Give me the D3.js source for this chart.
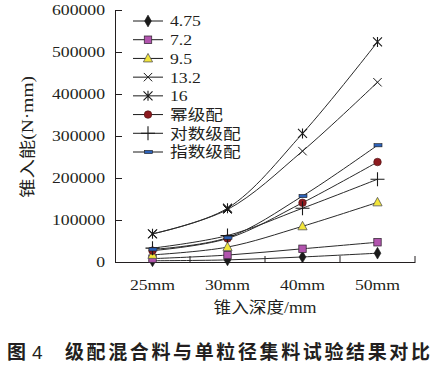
<!DOCTYPE html>
<html><head><meta charset="utf-8">
<script src="https://cdn.jsdelivr.net/npm/d3@7/dist/d3.min.js"></script>
<style>
html,body{margin:0;padding:0;background:#fff;}
svg{display:block;}
text{font-family:"Liberation Serif","Noto Sans CJK SC",serif;fill:#231f20;}
</style></head>
<body>
<svg id="c" width="441" height="371"></svg>
<script>
const categories = ["25mm","30mm","40mm","50mm"];
const seriesNames = ["4.75","7.2","9.5","13.2","16","幂级配","对数级配","指数级配"];
const s475 = [3000, 5000, 12000, 21000];
const s72 = [8000, 16500, 31500, 47000];
const s95 = [17000, 35500, 85000, 142000];
const s132 = [67000, 125000, 264000, 428000];
const s16 = [67000, 128000, 306000, 524000];
const sPow = [27000, 56000, 141000, 238000];
const sLog = [33000, 63000, 128000, 197000];
const sExp = [30000, 58000, 157000, 278000];
const yTicks = [0,100000,200000,300000,400000,500000,600000];
const xTitle = "锥入深度/mm";
const yTitle = "锥入能(N·mm)";
const caption1 = "图 4";
const caption2 = "级配混合料与单粒径集料试验结果对比";

const seriesValues = [s475, s72, s95, s132, s16, sPow, sLog, sExp];
const shapes = ["diamond","square","triangle","x","star","circle","plus","dash"];
const fills = ["#1a1a1a","#b254ae","#f2e53a","none","none","#8c1a1f","none","#2d62b8"];

const SX = 1.18;
const svg = d3.select("#c");
const x = d3.scaleBand().domain(categories).range([115,415]).paddingInner(0).paddingOuter(0);
const y = d3.scaleLinear().domain([0,600000]).range([262,10]);

function stretch(sel){
  sel.each(function(){
    const t = d3.select(this);
    const xx = +t.attr("x") || 0;
    t.attr("x",0).attr("transform",`translate(${xx},0) scale(${SX},1)`);
  });
}

// y axis
const gy = svg.append("g").attr("transform","translate(115,0)")
  .call(d3.axisLeft(y).tickValues(yTicks).tickFormat(d3.format("d")).tickSizeInner(-7).tickSizeOuter(0).tickPadding(10));
gy.select(".domain").attr("stroke","#231f20");
gy.selectAll(".tick line").attr("stroke","#231f20");
gy.selectAll("text").attr("font-size",15).attr("font-family","Liberation Serif").attr("fill","#231f20");
stretch(gy.selectAll("text"));

// x axis
const gx = svg.append("g").attr("transform","translate(0,262)")
  .call(d3.axisBottom(x).tickSize(0).tickPadding(17));
gx.select(".domain").attr("stroke","#231f20");
gx.selectAll("text").attr("font-size",15).attr("font-family","Liberation Serif").attr("fill","#231f20");
stretch(gx.selectAll("text"));
gx.selectAll(".bt").data(categories).enter().append("line")
  .attr("x1",d=>x(d)+x.bandwidth()).attr("x2",d=>x(d)+x.bandwidth())
  .attr("y1",0).attr("y2",-6).attr("stroke","#231f20");

// titles
svg.append("text").attr("transform","translate(33,137) rotate(-90)")
  .attr("text-anchor","middle").attr("font-size",16)
  .attr("textLength",122).attr("lengthAdjust","spacingAndGlyphs").text(yTitle);
svg.append("text").attr("x",265).attr("y",313).attr("text-anchor","middle")
  .attr("font-size",16).attr("textLength",103).attr("lengthAdjust","spacingAndGlyphs").text(xTitle);

// caption
svg.append("text").attr("x",7).attr("y",359).attr("font-size",19).attr("font-weight","bold")
  .style("font-family","'Noto Sans CJK SC',sans-serif").attr("fill","#111").text("图");
svg.append("text").attr("x",32).attr("y",359).attr("font-size",19)
  .style("font-family","'Liberation Sans',sans-serif").attr("fill","#111").text("4");
svg.append("text").attr("x",65).attr("y",359).attr("font-size",19).attr("font-weight","bold")
  .style("font-family","'Noto Sans CJK SC',sans-serif").attr("fill","#111")
  .attr("textLength",365).attr("lengthAdjust","spacing").text(caption2);

// markers
function marker(g, shape, fill, cx, cy){
  const st = "#1a1a1a";
  if(shape==="diamond"){
    g.append("path").attr("d",d3.symbol(d3.symbolDiamond,40)()).attr("transform",`translate(${cx},${cy})`).attr("fill",fill).attr("stroke",st).attr("stroke-width",0.6);
  } else if(shape==="square"){
    g.append("rect").attr("x",cx-3.7).attr("y",cy-3.7).attr("width",7.4).attr("height",7.4).attr("fill",fill).attr("stroke","#3a2a3a").attr("stroke-width",0.8);
  } else if(shape==="triangle"){
    g.append("path").attr("d",`M${cx},${cy-5}L${cx+4.6},${cy+3.5}L${cx-4.6},${cy+3.5}Z`).attr("fill",fill).attr("stroke","#555").attr("stroke-width",0.8);
  } else if(shape==="x"){
    const r=4.2;
    g.append("path").attr("d",`M${cx-r},${cy-r}L${cx+r},${cy+r}M${cx-r},${cy+r}L${cx+r},${cy-r}`).attr("stroke",st).attr("stroke-width",1);
  } else if(shape==="star"){
    const r=4.5;
    g.append("path").attr("d",`M${cx-r},${cy-r}L${cx+r},${cy+r}M${cx-r},${cy+r}L${cx+r},${cy-r}M${cx},${cy-r-0.5}L${cx},${cy+r+0.5}`).attr("stroke",st).attr("stroke-width",1.1);
  } else if(shape==="circle"){
    g.append("circle").attr("cx",cx).attr("cy",cy).attr("r",3.8).attr("fill",fill).attr("stroke","#4a1010").attr("stroke-width",0.6);
  } else if(shape==="plus"){
    const r=7;
    g.append("path").attr("d",`M${cx-r},${cy}L${cx+r},${cy}M${cx},${cy-r}L${cx},${cy+r}`).attr("stroke",st).attr("stroke-width",1.1);
  } else if(shape==="dash"){
    g.append("rect").attr("x",cx-3.5).attr("y",cy-1.6).attr("width",8).attr("height",3.2).attr("fill",fill).attr("stroke","#1a1a1a").attr("stroke-width",0.6);
  }
}

const line = d3.line().x((d,i)=>x(categories[i])+x.bandwidth()/2).y(d=>y(d)).curve(d3.curveCatmullRom.alpha(0.5));
const plot = svg.append("g");
seriesValues.forEach((vals,k)=>{
  plot.append("path").attr("d",line(vals)).attr("fill","none").attr("stroke","#2a2a2a").attr("stroke-width",1);
});
seriesValues.forEach((vals,k)=>{
  vals.forEach((v,i)=>marker(plot, shapes[k], fills[k], x(categories[i])+x.bandwidth()/2, y(v)));
});

// legend
const ly = d3.scalePoint().domain(seriesNames).range([21,152]);
const lg = svg.append("g");
seriesNames.forEach((n,k)=>{
  const yy = ly(n);
  lg.append("line").attr("x1",133).attr("x2",163).attr("y1",yy).attr("y2",yy).attr("stroke","#1a1a1a").attr("stroke-width",1);
  marker(lg, shapes[k], fills[k], 148, yy);
  const t = lg.append("text").attr("x",170).attr("y",yy+5.5).attr("font-size",15).text(n);
  stretch(t);
});
</script>
</body></html>
